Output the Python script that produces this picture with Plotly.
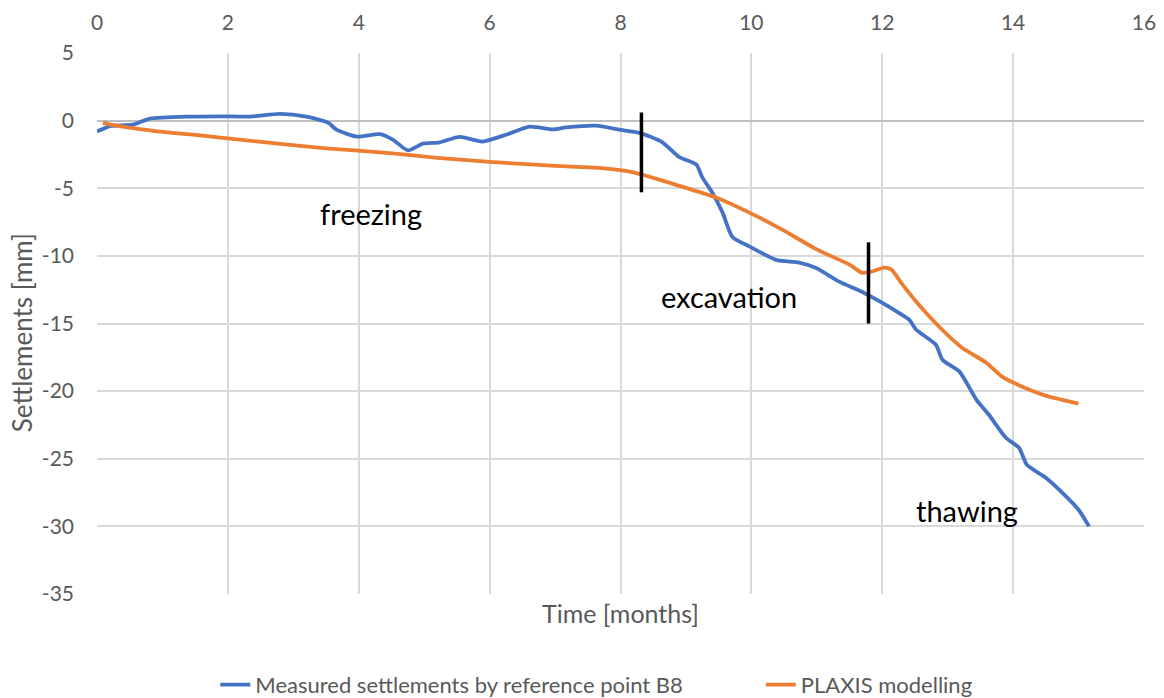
import plotly.graph_objects as go

# Measured settlements at reference point B8 (time in months, settlement in mm)
measured_t = [0.0, 0.2, 0.55, 0.81, 1.42, 1.9, 2.34, 2.8, 3.2, 3.53, 3.66, 3.97, 4.32,
              4.52, 4.75, 4.98, 5.24, 5.54, 5.89, 6.26, 6.61, 6.96, 7.17, 7.63, 7.98,
              8.29, 8.64, 8.9, 9.16, 9.25, 9.4, 9.56, 9.71, 9.97, 10.38, 10.73, 10.99,
              11.34, 11.69, 11.9, 12.1, 12.41, 12.52, 12.82, 12.92, 13.18, 13.44, 13.63,
              13.89, 14.09, 14.21, 14.5, 14.75, 15.0, 15.16]
measured_s = [-0.8, -0.4, -0.3, 0.15, 0.3, 0.32, 0.3, 0.5, 0.3, -0.15, -0.67, -1.18, -1.0,
              -1.4, -2.2, -1.7, -1.6, -1.2, -1.55, -1.03, -0.45, -0.65, -0.5, -0.37, -0.67,
              -0.9, -1.6, -2.7, -3.25, -4.2, -5.3, -6.8, -8.6, -9.3, -10.3, -10.5, -10.9,
              -11.9, -12.65, -13.2, -13.76, -14.72, -15.46, -16.57, -17.68, -18.56, -20.64,
              -21.75, -23.45, -24.19, -25.44, -26.4, -27.5, -28.77, -30.0]

# PLAXIS model results
plaxis_t = [0.09, 0.2, 0.4, 0.92, 1.5, 1.92, 2.95, 3.5, 4.47, 5.2, 6.0, 7.0, 7.68, 8.18,
            8.34, 8.95, 9.47, 9.97, 10.47, 10.99, 11.5, 11.69, 11.83, 12.03, 12.14, 12.31,
            12.52, 12.87, 13.22, 13.59, 13.83, 14.14, 14.55, 14.75, 15.0]
plaxis_s = [-0.15, -0.3, -0.45, -0.8, -1.05, -1.27, -1.8, -2.05, -2.4, -2.75, -3.05, -3.35,
            -3.5, -3.8, -4.0, -4.9, -5.7, -6.8, -8.06, -9.5, -10.65, -11.24, -11.17, -10.87,
            -11.02, -12.13, -13.39, -15.24, -16.79, -17.9, -18.93, -19.67, -20.41, -20.64,
            -20.93]

# Phase boundaries (vertical markers)
boundary_t = [8.32, 11.79]
boundary_top = [0.6, -9.0]
boundary_bottom = [-5.3, -15.0]

# Phase labels
phase_names = ["freezing", "excavation", "thawing"]
phase_t = [4.18, 9.66, 13.3]
phase_s = [-6.9, -13.0, -28.8]

x_ticks = list(range(0, 17, 2))
y_ticks = list(range(-35, 6, 5))
y_tick_text = [str(v) for v in y_ticks]

FONT = "Lato"
GREY = "#595959"

fig = go.Figure()

fig.add_trace(go.Scatter(
    x=measured_t, y=measured_s, mode="lines",
    name="Measured settlements by reference point B8", legend="legend",
    line=dict(color="#4472C4", width=3.8, shape="spline", smoothing=0.6),
))
fig.add_trace(go.Scatter(
    x=plaxis_t, y=plaxis_s, mode="lines",
    name="PLAXIS modelling", legend="legend2",
    line=dict(color="#ED7D31", width=3.8, shape="spline", smoothing=0.6),
))

for t, top, bot in zip(boundary_t, boundary_top, boundary_bottom):
    fig.add_trace(go.Scatter(
        x=[t, t], y=[top, bot], mode="lines", showlegend=False,
        line=dict(color="black", width=3.5), hoverinfo="skip",
    ))

for name, t, s in zip(phase_names, phase_t, phase_s):
    fig.add_annotation(x=t, y=s, text=name, showarrow=False,
                       font=dict(family=FONT, size=29, color="black"))

# Axis titles
fig.add_annotation(x=0.5, y=-0.003, xref="paper", yref="paper", yanchor="top",
                   text="Time [months]", showarrow=False,
                   font=dict(family=FONT, size=25, color=GREY))
fig.add_annotation(x=-0.0716, y=0.482, xref="paper", yref="paper",
                   xanchor="center", yanchor="middle", textangle=-90,
                   text="Settlements [mm]", showarrow=False,
                   font=dict(family=FONT, size=26, color=GREY))

legend_style = dict(orientation="h", xanchor="left", y=-0.168, yanchor="middle",
                    font=dict(size=22, color=GREY), bgcolor="rgba(0,0,0,0)")

fig.update_layout(
    width=1164, height=698,
    margin=dict(l=97, r=20, t=53, b=104, autoexpand=False),
    paper_bgcolor="white", plot_bgcolor="white",
    font=dict(family=FONT, color=GREY, size=21),
    xaxis=dict(
        side="top", range=[0, 16], tickvals=x_ticks,
        showgrid=True, gridcolor="#D9D9D9", gridwidth=1.5,
        zeroline=False, showline=False, ticks="",
        tickfont=dict(size=21, color=GREY), ticklabelstandoff=18,
    ),
    yaxis=dict(
        range=[-35, 5], tickvals=y_ticks, ticktext=y_tick_text,
        showgrid=True, gridcolor="#D9D9D9", gridwidth=1.5,
        zeroline=True, zerolinecolor="#BFBFBF", zerolinewidth=1.8,
        showline=False, ticks="",
        tickfont=dict(size=21, color=GREY), ticklabelstandoff=22,
    ),
    legend=dict(x=0.113, **legend_style),
    legend2=dict(x=0.634, **legend_style),
)

fig.write_html("out.html")
